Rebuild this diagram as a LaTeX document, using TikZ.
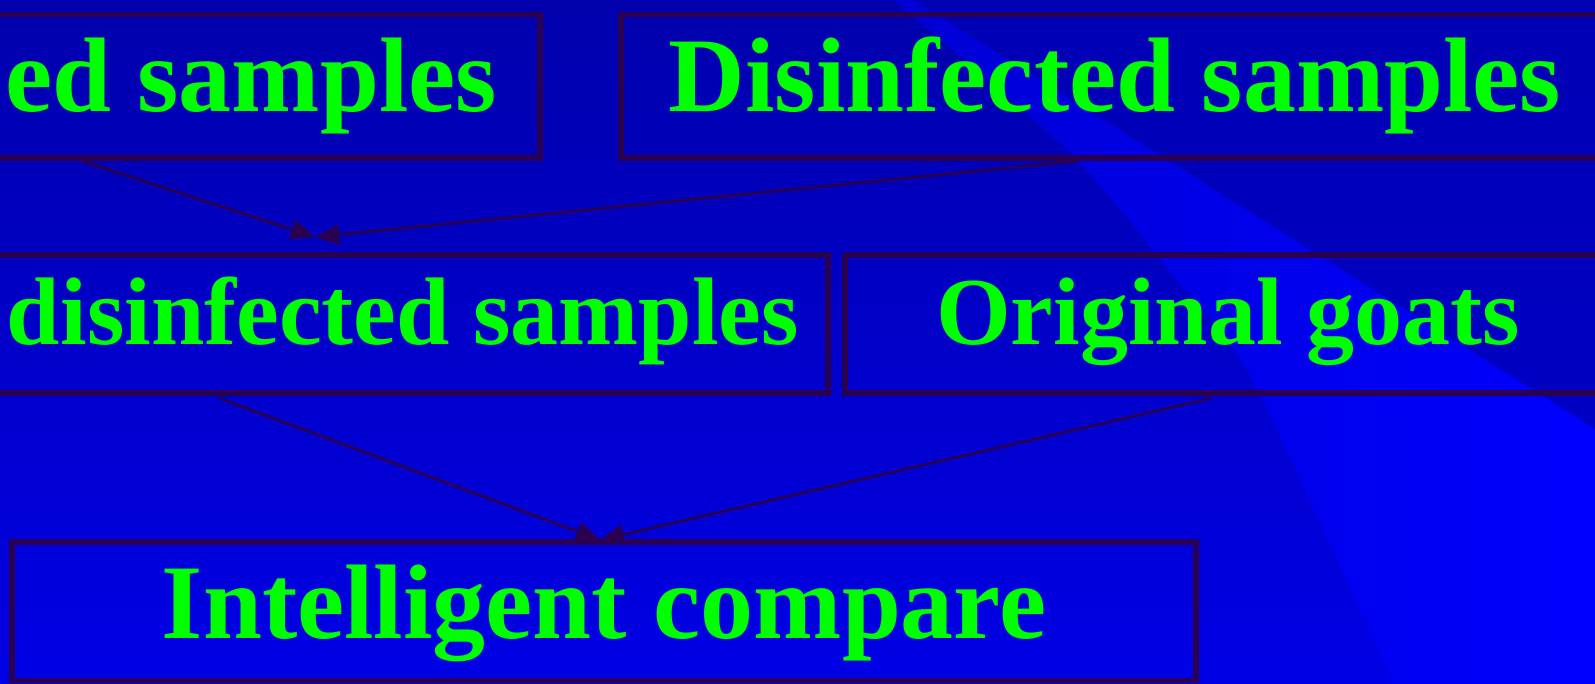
\documentclass[tikz,border=0pt]{standalone}
\usepackage{fontspec}
\setmainfont{Liberation Serif}
\usetikzlibrary{arrows.meta,calc}
\definecolor{bgtop}{HTML}{0000AC}
\definecolor{bgbot}{HTML}{0000E6}
\definecolor{uppertop}{HTML}{0000B4}
\definecolor{upperbot}{HTML}{0000C4}
\definecolor{bandl}{HTML}{0000D4}
\definecolor{bandr}{HTML}{0000FF}
\definecolor{edgec}{HTML}{2A0050}
\definecolor{txtc}{HTML}{00FF00}
\tikzset{
  box/.style={draw=edgec, line width=2.8pt, text=txtc, outer sep=0pt, inner ysep=0pt},
  bigtxt/.style={font=\bfseries\fontsize{53}{60}\selectfont, text height=37pt, text depth=12pt},
  midtxt/.style={font=\bfseries\fontsize{48}{54}\selectfont, text height=33.6pt, text depth=13.6pt},
  arr/.style={draw=edgec, line width=1.4pt, -{Triangle[length=12pt,width=10pt]}, fill=edgec}
}
\begin{document}
\begin{tikzpicture}[x=0.5pt,y=-0.5pt]
\useasboundingbox (0,0) rectangle (1595,684);
\clip (0,0) rectangle (1595,684);
% background
\shade[top color=bgtop, bottom color=bgbot] (0,0) rectangle (1595,684);
\shade[top color=uppertop, bottom color=upperbot] (913,0) -- (1595,0) -- (1595,429) -- cycle;
\shade[left color=bandl, right color=bandr]
  plot[smooth] coordinates {(893,0) (1067,150) (1168,270) (1252,380) (1393,684)}
  -- (1595,684) -- (1595,429) -- (913,0) -- cycle;
% boxes
\node[box, bigtxt, text width=377pt, align=flush right, inner xsep=21.5pt, minimum height=71.75pt] (b1) at (120,86.25) {ed samples};
\node[box, bigtxt, inner xsep=0pt, minimum width=494pt, minimum height=71.75pt] (b2) at (1115,86.25) {Disinfected samples};
\node[box, midtxt, text width=535pt, align=flush right, inner xsep=14.5pt, minimum height=69pt] (b3) at (264,324) {disinfected samples};
\node[box, midtxt, inner xsep=0pt, minimum width=383pt, minimum height=69pt] (b4) at (1228,324) {Original goats};
\node[box, bigtxt, text height=38pt, text depth=10.5pt, inner xsep=0pt, minimum width=592pt, minimum height=69.25pt] (b5) at (604,611.25) {Intelligent compare};
% junction points
\coordinate (j1) at (315,237);
\coordinate (j2) at (600,540);
% connectors
\draw[arr] ($(b1.south east)+(-458,3)$) -- (j1);
\draw[arr] ($(b2.south west)+(457,3)$) -- (j1);
\draw[arr] ($(b3.south east)+(-609,5)$) -- (j2);
\draw[arr] ($(b4.south west)+(367,5)$) -- (j2);
\end{tikzpicture}
\end{document}
